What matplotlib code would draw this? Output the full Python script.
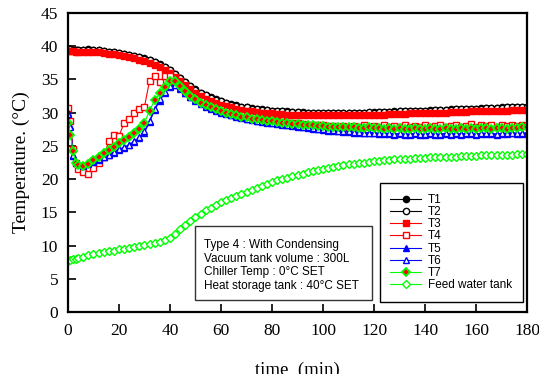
import numpy as np
import matplotlib
matplotlib.use("Agg")
import matplotlib.pyplot as plt
from matplotlib import patches

# sample times (min)
time = [0, 1, 2, 3, 4] + list(range(6, 181, 2))

T1 = [39.6, 39.6, 39.5, 39.5, 39.5,
      39.5, 39.6, 39.5, 39.4, 39.3, 39.2, 39.1, 39.0, 38.9, 38.7,
      38.6, 38.4, 38.2, 37.9, 37.6, 37.3, 36.9, 36.5, 35.9, 35.3,
      34.6, 34.0, 33.5, 33.0, 32.6, 32.3, 32.0, 31.7, 31.5, 31.3,
      31.1, 30.9, 30.8, 30.7, 30.6, 30.5, 30.4, 30.3, 30.3, 30.2,
      30.2, 30.1, 30.1, 30.1, 30.0, 30.0, 30.0, 30.0, 30.0, 30.0,
      30.0, 30.0, 30.0, 30.0, 30.0, 30.0, 30.0, 30.1, 30.1, 30.1,
      30.1, 30.2, 30.2, 30.2, 30.2, 30.3, 30.3, 30.3, 30.4, 30.4,
      30.4, 30.4, 30.5, 30.5, 30.5, 30.6, 30.6, 30.6, 30.7, 30.7,
      30.7, 30.7, 30.8, 30.8, 30.8, 30.9, 30.9, 30.9]

T2 = [39.5, 39.6, 39.5, 39.5, 39.4,
      39.5, 39.5, 39.5, 39.4, 39.3, 39.2, 39.1, 39.0, 38.8, 38.7,
      38.5, 38.4, 38.1, 37.9, 37.6, 37.2, 36.9, 36.4, 35.8, 35.2,
      34.6, 34.0, 33.4, 33.0, 32.6, 32.2, 31.9, 31.7, 31.5, 31.2,
      31.0, 30.9, 30.8, 30.6, 30.5, 30.4, 30.4, 30.3, 30.2, 30.2,
      30.1, 30.1, 30.1, 30.0, 30.0, 30.0, 30.0, 29.9, 30.0, 30.0,
      30.0, 29.9, 30.0, 30.0, 30.0, 30.0, 30.1, 30.0, 30.1, 30.1,
      30.1, 30.1, 30.2, 30.2, 30.2, 30.2, 30.3, 30.3, 30.3, 30.4,
      30.4, 30.4, 30.4, 30.5, 30.5, 30.5, 30.6, 30.6, 30.6, 30.7,
      30.7, 30.7, 30.7, 30.8, 30.8, 30.8, 30.8, 30.9]

T3 = [39.3, 39.3, 39.3, 39.2, 39.2,
      39.2, 39.2, 39.2, 39.1, 39.0, 38.9, 38.8, 38.7, 38.5, 38.4,
      38.2, 38.0, 37.8, 37.5, 37.2, 36.9, 36.5, 36.0, 35.4, 34.8,
      34.1, 33.5, 33.0, 32.5, 32.1, 31.8, 31.5, 31.2, 31.0, 30.8,
      30.6, 30.4, 30.3, 30.2, 30.1, 30.0, 29.9, 29.9, 29.8, 29.8,
      29.7, 29.7, 29.7, 29.6, 29.6, 29.6, 29.6, 29.6, 29.6, 29.6,
      29.6, 29.6, 29.6, 29.6, 29.6, 29.7, 29.7, 29.7, 29.7, 29.7,
      29.8, 29.8, 29.8, 29.8, 29.9, 29.9, 29.9, 29.9, 30.0, 30.0,
      30.0, 30.0, 30.1, 30.1, 30.1, 30.1, 30.2, 30.2, 30.2, 30.2,
      30.3, 30.3, 30.3, 30.3, 30.4, 30.4, 30.4, 30.4]

T4 = [30.7, 28.8, 24.6, 22.5, 21.5,
      21.0, 20.8, 21.6, 22.5, 23.4, 25.7, 26.7, 26.5, 28.4, 29.0,
      30.0, 30.5, 30.9, 34.8, 35.5, 34.6, 35.5, 35.6, 34.8, 34.0,
      33.3, 32.7, 32.2, 31.7, 31.3, 31.0, 30.7, 30.5, 30.2, 30.0,
      29.8, 29.6, 29.4, 29.3, 29.1, 29.0, 28.9, 28.8, 28.7, 28.6,
      28.5, 28.4, 28.4, 28.3, 28.2, 28.2, 28.1, 28.1, 28.0, 28.0,
      27.9, 28.0, 27.8, 28.0, 27.9, 28.1, 27.8, 28.0, 27.9, 28.1,
      27.8, 28.0, 27.9, 28.2, 27.9, 28.0, 27.8, 28.1, 27.9, 28.0,
      28.1, 27.9, 28.0, 28.2, 27.9, 28.0, 28.3, 27.9, 28.1, 28.0,
      28.2, 27.9, 28.1, 28.0, 28.2, 28.0, 28.1, 28.0]

T5 = [30.0, 28.0, 23.5, 22.5, 22.2,
      22.0, 22.3, 22.6, 22.9, 23.3, 23.6, 24.0, 24.4, 24.7, 25.1,
      25.6, 26.2, 27.0, 28.6, 30.4, 31.8, 33.0, 33.9, 34.2, 33.6,
      32.9, 32.3, 31.8, 31.3, 30.9, 30.6, 30.3, 30.0, 29.8, 29.6,
      29.4, 29.2, 29.0, 28.9, 28.7, 28.6, 28.5, 28.4, 28.3, 28.2,
      28.1, 28.0, 27.9, 27.8, 27.7, 27.6, 27.5, 27.4, 27.3, 27.3,
      27.2, 27.1, 27.1, 27.0, 27.0, 26.9, 26.9, 26.9, 26.8, 26.8,
      26.8, 26.7, 26.8, 26.7, 26.7, 26.8, 26.7, 26.7, 26.8, 26.7,
      26.7, 26.8, 26.7, 26.8, 26.7, 26.8, 26.8, 26.7, 26.8, 26.8,
      26.8, 26.7, 26.8, 26.8, 26.9, 26.8, 26.8, 26.9]

T6 = [29.8, 27.8, 23.7, 22.6, 22.3,
      22.1, 22.4, 22.7, 23.0, 23.4, 23.7, 24.1, 24.5, 24.8, 25.2,
      25.7, 26.3, 27.2, 28.8, 30.6, 32.0, 33.1, 34.0, 34.2, 33.7,
      33.0, 32.4, 31.9, 31.4, 31.0, 30.7, 30.4, 30.1, 29.9, 29.7,
      29.5, 29.3, 29.1, 29.0, 28.8, 28.7, 28.6, 28.5, 28.4, 28.3,
      28.2, 28.1, 28.0, 27.9, 27.8, 27.7, 27.6, 27.5, 27.4, 27.4,
      27.3, 27.2, 27.2, 27.1, 27.1, 27.0, 27.0, 27.0, 26.9, 26.9,
      26.9, 26.8, 26.9, 26.8, 26.8, 26.9, 26.8, 26.8, 26.9, 26.8,
      26.8, 26.9, 26.8, 26.9, 26.8, 26.9, 26.9, 26.8, 26.9, 26.9,
      26.9, 26.8, 26.9, 26.9, 27.0, 26.9, 26.9, 27.0]

T7 = [28.4, 26.6, 24.2, 22.4, 22.1,
      21.9, 22.3, 22.9, 23.4, 24.0, 24.4, 24.9, 25.4, 25.9, 26.4,
      26.9, 27.6, 28.5, 30.3, 31.9, 32.9, 33.8, 34.7, 34.8, 34.0,
      33.2, 32.5, 32.0, 31.5, 31.1, 30.8, 30.5, 30.2, 30.0, 29.8,
      29.6, 29.4, 29.3, 29.1, 29.0, 28.9, 28.8, 28.7, 28.6, 28.5,
      28.4, 28.3, 28.3, 28.2, 28.1, 28.1, 28.0, 28.0, 27.9, 27.9,
      27.9, 27.8, 27.8, 27.8, 27.7, 27.7, 27.8, 27.7, 27.7, 27.6,
      27.7, 27.6, 27.7, 27.6, 27.6, 27.7, 27.6, 27.6, 27.7, 27.6,
      27.6, 27.7, 27.6, 27.6, 27.7, 27.6, 27.7, 27.6, 27.7, 27.7,
      27.6, 27.7, 27.7, 27.6, 27.7, 27.7, 27.8, 27.8]

feed = [7.7, 7.8, 7.9, 8.0, 8.1,
        8.3, 8.5, 8.7, 8.8, 9.0, 9.1, 9.2, 9.4, 9.5, 9.6,
        9.8, 9.9, 10.1, 10.2, 10.4, 10.6, 10.8, 11.1, 11.7, 12.5,
        13.1, 13.7, 14.3, 14.8, 15.3, 15.7, 16.1, 16.5, 16.8, 17.2,
        17.5, 17.8, 18.1, 18.4, 18.7, 19.0, 19.3, 19.5, 19.8, 20.0,
        20.2, 20.4, 20.6, 20.8, 21.0, 21.2, 21.4, 21.5, 21.7, 21.8,
        21.9, 22.1, 22.2, 22.3, 22.4, 22.5, 22.6, 22.7, 22.8, 22.9,
        22.9, 23.0, 23.0, 23.1, 23.1, 23.2, 23.2, 23.2, 23.3, 23.3,
        23.3, 23.4, 23.4, 23.4, 23.5, 23.5, 23.5, 23.5, 23.6, 23.6,
        23.6, 23.6, 23.7, 23.7, 23.7, 23.8, 23.8, 23.8]

labels = ["T1", "T2", "T3", "T4", "T5", "T6", "T7", "Feed water tank"]
notes = ["Type 4 : With Condensing",
         "Vacuum tank volume : 300L",
         "Chiller Temp : 0\u00b0C SET",
         "Heat storage tank : 40\u00b0C SET"]

fig = plt.figure(figsize=(5.39, 3.74), dpi=100)
ax = fig.add_axes([0.126, 0.166, 0.852, 0.799])

ms = 4.5
lw = 0.8
ax.plot(time, T1, "-o", color="black", mfc="black", mec="black", ms=ms, lw=lw, label=labels[0])
ax.plot(time, T2, "-o", color="black", mfc="white", mec="black", ms=ms, lw=lw, label=labels[1])
ax.plot(time, T3, "-s", color="red", mfc="red", mec="red", ms=ms, lw=lw, label=labels[2])
ax.plot(time, T4, "-s", color="red", mfc="white", mec="red", ms=ms+0.5, lw=lw, label=labels[3])
ax.plot(time, T5, "-^", color="blue", mfc="blue", mec="blue", ms=ms, lw=lw, label=labels[4])
ax.plot(time, T6, "-^", color="blue", mfc="white", mec="blue", ms=ms, lw=lw, label=labels[5])
ax.plot(time, T7, "-D", color="#00ff00", mfc="red", mec="#00ff00", mew=1.3, ms=ms, lw=lw, label=labels[6])
ax.plot(time, feed, "-D", color="#00ff00", mfc="white", mec="#00ff00", ms=ms, lw=lw, label=labels[7])

ax.set_xlim(0, 180)
ax.set_ylim(0, 45)
ax.set_xticks(range(0, 181, 20))
ax.set_yticks(range(0, 46, 5))

serif = "Liberation Serif"
ax.tick_params(direction="in", length=6, width=1.2, labelsize=12.5)
ax.tick_params(axis="x", pad=8)
ax.tick_params(axis="y", pad=7)
for lab in ax.get_xticklabels() + ax.get_yticklabels():
    lab.set_family(serif)
for sp in ax.spines.values():
    sp.set_linewidth(1.6)

ax.set_xlabel("time  (min)", family=serif, fontsize=13.5, labelpad=16)
ax.set_ylabel("Temperature. (\u00b0C)", family=serif, fontsize=14, labelpad=8)

leg = ax.legend(loc="lower right", bbox_to_anchor=(0.991, 0.033), borderaxespad=0,
                prop={"family": "Liberation Sans", "size": 8.5}, fancybox=False,
                edgecolor="black", framealpha=1, handlelength=2.6, labelspacing=0.02,
                borderpad=0.9, handletextpad=0.6)
leg.get_frame().set_linewidth(1.0)

# condition box
ax.add_patch(patches.Rectangle((0.277, 0.040), 0.385, 0.248, transform=ax.transAxes,
                               fill=True, facecolor="white", edgecolor="#333333", lw=1.0, zorder=5))
for i, s in enumerate(notes):
    ax.text(0.297, 0.225 - i * 0.0465, s, transform=ax.transAxes, family="Liberation Sans",
            fontsize=8.5, va="center", ha="left", zorder=6)

fig.savefig("out.png", dpi=100)
